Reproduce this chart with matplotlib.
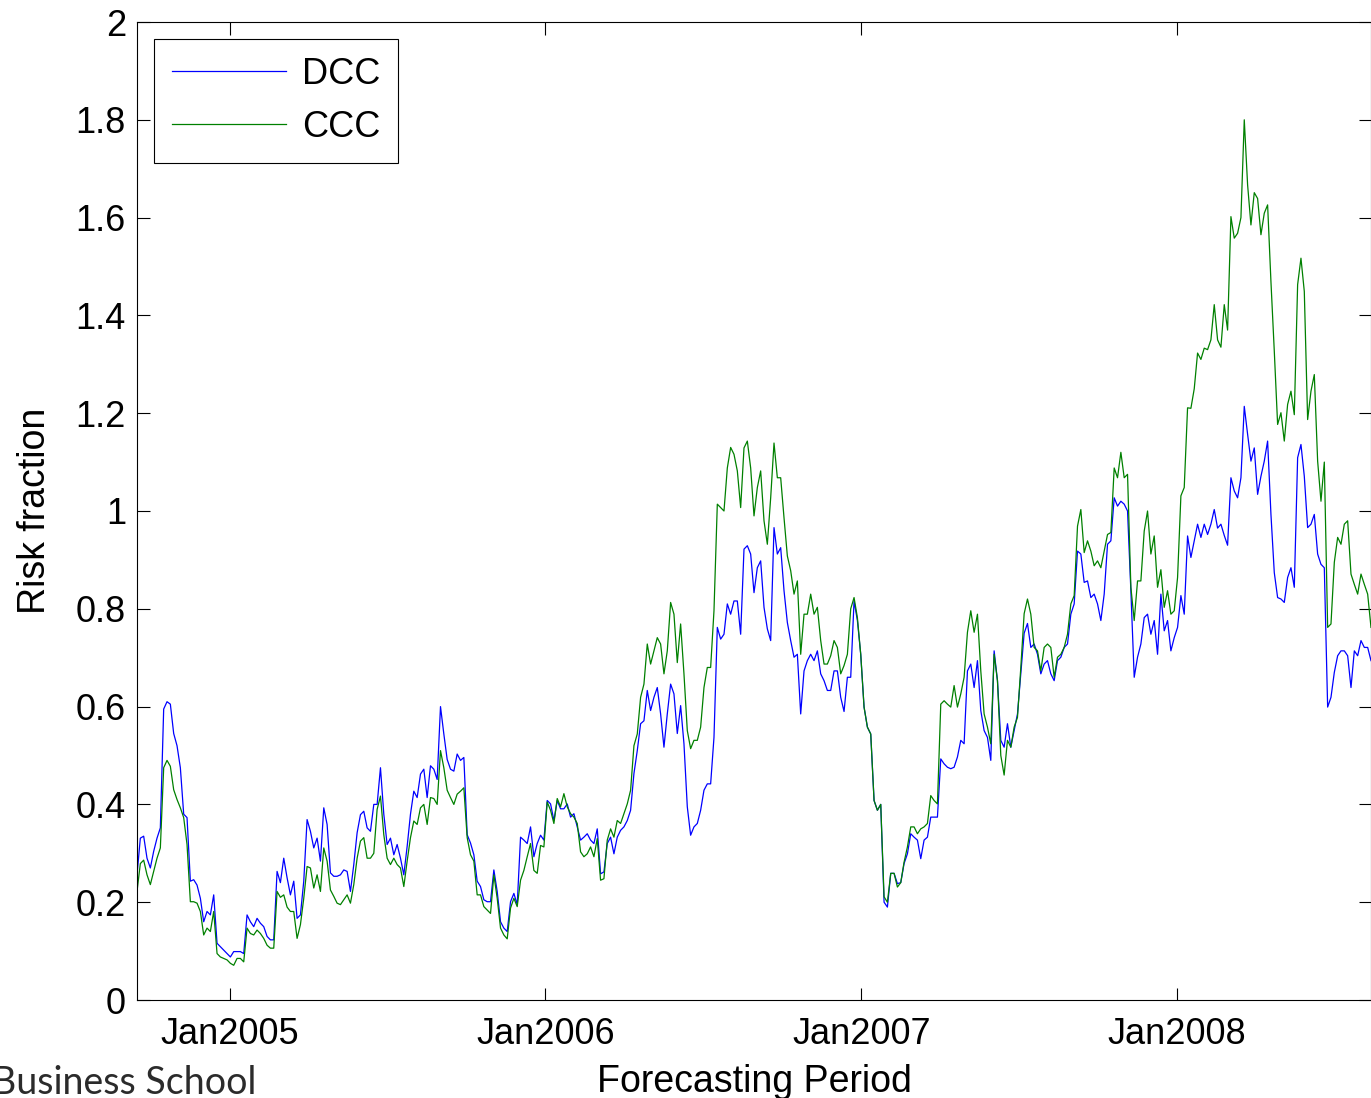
import matplotlib
matplotlib.use("Agg")
import matplotlib.pyplot as plt
import matplotlib.ticker as mticker
import pandas as pd

# ---------------- data ----------------
start_date = "2004-09-16"
end_date = "2008-08-12"

dcc = [
    # Sep 2004 - Mar 2005
    0.256, 0.331, 0.335, 0.290, 0.270, 0.304, 0.331, 0.352, 0.595, 0.610,
    0.605, 0.545, 0.520, 0.475, 0.380, 0.373, 0.243, 0.246, 0.235, 0.208,
    0.160, 0.181, 0.174, 0.215, 0.116, 0.109, 0.102, 0.095, 0.088, 0.099,
    0.099, 0.099, 0.095, 0.174, 0.160, 0.150, 0.167, 0.157, 0.150, 0.130,
    0.123, 0.123, 0.263, 0.240, 0.290, 0.250, 0.215, 0.243, 0.167, 0.174,
    0.243, 0.369, 0.345, 0.311, 0.331, 0.284, 0.393, 0.359,
    # Apr 2005 - Dec 2005
    0.260, 0.253, 0.253, 0.256, 0.266, 0.263, 0.222, 0.277, 0.342, 0.379,
    0.386, 0.352, 0.345, 0.400, 0.400, 0.475, 0.380, 0.318, 0.331, 0.297,
    0.318, 0.290, 0.256, 0.314, 0.380, 0.427, 0.414, 0.462, 0.472, 0.414,
    0.479, 0.472, 0.451, 0.600, 0.544, 0.492, 0.472, 0.468, 0.503, 0.490,
    0.496, 0.338, 0.321, 0.297, 0.243, 0.232, 0.205, 0.201, 0.201, 0.266,
    0.222, 0.160, 0.147, 0.140, 0.201, 0.218, 0.195,
    # Dec 2005 - Jun 2006
    0.333, 0.327, 0.320, 0.354, 0.293, 0.320, 0.337, 0.327, 0.408, 0.401,
    0.367, 0.408, 0.391, 0.391, 0.401, 0.374, 0.381, 0.354, 0.327, 0.333,
    0.340, 0.327, 0.320, 0.350, 0.258, 0.262, 0.320, 0.333, 0.299, 0.333,
    0.347, 0.354, 0.367, 0.388, 0.463, 0.510, 0.565, 0.571, 0.633, 0.592,
    0.619, 0.639, 0.585, 0.517, 0.585, 0.646, 0.626, 0.545,
    # Jun 2006 - Jan 2007
    0.602, 0.524, 0.395, 0.337, 0.354, 0.361, 0.388, 0.429, 0.442, 0.442,
    0.537, 0.762, 0.738, 0.748, 0.810, 0.789, 0.816, 0.816, 0.748, 0.922,
    0.929, 0.912, 0.833, 0.884, 0.898, 0.803, 0.759, 0.735, 0.966, 0.912,
    0.925, 0.837, 0.772, 0.735, 0.701, 0.707, 0.585, 0.673, 0.694, 0.707,
    0.694, 0.714, 0.667, 0.653, 0.633, 0.633, 0.673, 0.673, 0.619, 0.590,
    0.660, 0.660, 0.816, 0.776,
    # Jan 2007 - Aug 2007
    0.707, 0.599, 0.558, 0.544, 0.408, 0.388, 0.400, 0.200, 0.190, 0.259,
    0.259, 0.238, 0.240, 0.279, 0.299, 0.340, 0.333, 0.327, 0.289, 0.327,
    0.333, 0.374, 0.374, 0.374, 0.493, 0.483, 0.476, 0.473, 0.476, 0.497,
    0.531, 0.524, 0.673, 0.687, 0.639, 0.694, 0.592, 0.551, 0.537, 0.490,
    0.714, 0.653, 0.531, 0.517, 0.565, 0.517, 0.551, 0.585, 0.667, 0.750,
    0.770, 0.721, 0.728, 0.707, 0.667, 0.687, 0.694, 0.667, 0.653, 0.694,
    # Aug 2007 - Feb 2008
    0.701, 0.721, 0.728, 0.789, 0.810, 0.918, 0.912, 0.854, 0.857, 0.823,
    0.830, 0.810, 0.776, 0.830, 0.932, 0.939, 1.027, 1.010, 1.020, 1.014,
    1.000, 0.837, 0.660, 0.701, 0.728, 0.782, 0.789, 0.748, 0.776, 0.707,
    0.830, 0.755, 0.776, 0.714, 0.741, 0.762, 0.827, 0.789, 0.949, 0.905,
    0.939, 0.973, 0.946, 0.973, 0.952, 0.973, 1.003, 0.965, 0.973, 0.950,
    0.930, 1.068, 1.041, 1.027,
    # Mar 2008 - Aug 2008
    1.068, 1.214, 1.157, 1.102, 1.129, 1.034, 1.071, 1.102, 1.143, 0.993,
    0.874, 0.823, 0.820, 0.813, 0.864, 0.884, 0.844, 1.109, 1.136, 1.071,
    0.966, 0.973, 0.993, 0.912, 0.891, 0.884, 0.599, 0.619, 0.670, 0.704,
    0.714, 0.714, 0.704, 0.639, 0.714, 0.704, 0.735, 0.721, 0.721, 0.694,
]

ccc = [
    # Sep 2004 - Mar 2005
    0.222, 0.279, 0.286, 0.256, 0.236, 0.263, 0.290, 0.311, 0.475, 0.490,
    0.478, 0.430, 0.410, 0.393, 0.373, 0.318, 0.201, 0.201, 0.198, 0.181,
    0.133, 0.147, 0.140, 0.181, 0.095, 0.088, 0.085, 0.082, 0.075, 0.071,
    0.085, 0.085, 0.078, 0.147, 0.136, 0.133, 0.143, 0.136, 0.126, 0.112,
    0.106, 0.106, 0.222, 0.210, 0.215, 0.190, 0.181, 0.181, 0.126, 0.154,
    0.208, 0.273, 0.270, 0.229, 0.256, 0.222, 0.311, 0.284,
    # Apr 2005 - Dec 2005
    0.225, 0.212, 0.198, 0.195, 0.205, 0.215, 0.198, 0.236, 0.290, 0.325,
    0.332, 0.290, 0.290, 0.300, 0.390, 0.417, 0.338, 0.290, 0.277, 0.290,
    0.277, 0.270, 0.232, 0.284, 0.332, 0.366, 0.359, 0.393, 0.400, 0.359,
    0.414, 0.412, 0.400, 0.510, 0.475, 0.429, 0.414, 0.400, 0.421, 0.427,
    0.434, 0.332, 0.297, 0.284, 0.215, 0.215, 0.191, 0.184, 0.177, 0.256,
    0.208, 0.147, 0.133, 0.125, 0.188, 0.208, 0.191,
    # Dec 2005 - Jun 2006
    0.245, 0.265, 0.293, 0.320, 0.265, 0.259, 0.316, 0.313, 0.405, 0.388,
    0.361, 0.412, 0.395, 0.422, 0.395, 0.381, 0.374, 0.361, 0.303, 0.293,
    0.299, 0.313, 0.293, 0.330, 0.245, 0.248, 0.327, 0.350, 0.333, 0.367,
    0.361, 0.381, 0.401, 0.429, 0.520, 0.544, 0.619, 0.646, 0.728, 0.687,
    0.714, 0.741, 0.728, 0.667, 0.714, 0.813, 0.789, 0.690,
    # Jun 2006 - Jan 2007
    0.769, 0.667, 0.551, 0.514, 0.531, 0.531, 0.558, 0.639, 0.680, 0.680,
    0.796, 1.014, 1.007, 1.000, 1.088, 1.130, 1.116, 1.082, 1.007, 1.129,
    1.143, 1.088, 0.990, 1.048, 1.082, 0.980, 0.932, 1.027, 1.139, 1.068,
    1.068, 0.986, 0.908, 0.878, 0.830, 0.857, 0.707, 0.789, 0.789, 0.830,
    0.789, 0.803, 0.735, 0.687, 0.687, 0.704, 0.735, 0.721, 0.667, 0.684,
    0.707, 0.800, 0.823, 0.782,
    # Jan 2007 - Aug 2007
    0.707, 0.599, 0.558, 0.544, 0.408, 0.388, 0.400, 0.211, 0.200, 0.259,
    0.259, 0.231, 0.240, 0.282, 0.313, 0.354, 0.354, 0.340, 0.350, 0.354,
    0.361, 0.418, 0.408, 0.401, 0.605, 0.612, 0.605, 0.599, 0.643, 0.599,
    0.626, 0.660, 0.752, 0.796, 0.752, 0.789, 0.673, 0.585, 0.558, 0.524,
    0.707, 0.653, 0.500, 0.460, 0.531, 0.517, 0.558, 0.578, 0.680, 0.790,
    0.820, 0.789, 0.721, 0.714, 0.673, 0.721, 0.728, 0.721, 0.660, 0.701,
    # Aug 2007 - Feb 2008
    0.707, 0.721, 0.748, 0.810, 0.827, 0.969, 1.003, 0.915, 0.939, 0.918,
    0.888, 0.898, 0.884, 0.918, 0.952, 0.956, 1.088, 1.068, 1.120, 1.068,
    1.075, 0.844, 0.776, 0.857, 0.857, 0.959, 1.000, 0.912, 0.949, 0.844,
    0.880, 0.803, 0.837, 0.789, 0.796, 0.864, 1.031, 1.048, 1.211, 1.210,
    1.250, 1.323, 1.310, 1.333, 1.330, 1.350, 1.422, 1.350, 1.335, 1.422,
    1.370, 1.602, 1.558, 1.568,
    # Mar 2008 - Aug 2008
    1.600, 1.800, 1.667, 1.585, 1.651, 1.639, 1.565, 1.609, 1.626, 1.469,
    1.327, 1.177, 1.201, 1.143, 1.218, 1.245, 1.197, 1.463, 1.517, 1.449,
    1.187, 1.245, 1.279, 1.102, 1.020, 1.100, 0.762, 0.769, 0.895, 0.946,
    0.932, 0.973, 0.980, 0.871, 0.850, 0.830, 0.871, 0.850, 0.830, 0.762,
]

series_labels = ["DCC", "CCC"]
xtick_dates = ["2005-01-01", "2006-01-01", "2007-01-01", "2008-01-01"]
xtick_labels = ["Jan2005", "Jan2006", "Jan2007", "Jan2008"]
yticks = [0, 0.2, 0.4, 0.6, 0.8, 1.0, 1.2, 1.4, 1.6, 1.8, 2.0]

# ---------------- figure ----------------
plt.rcParams["font.family"] = ["Liberation Sans", "DejaVu Sans"]

dates = pd.date_range(start_date, end_date, periods=len(dcc))

fig = plt.figure(figsize=(13.71, 10.98), dpi=100)
ax = fig.add_axes([137 / 1371, 98 / 1098, 1234 / 1371, 978 / 1098])

ax.plot(dates, dcc, color=(0, 0, 1), lw=0.9, label=series_labels[0])
ax.plot(dates, ccc, color=(0, 0.5, 0), lw=0.9, label=series_labels[1])

ax.set_xlim(dates[0], dates[-1])
ax.set_ylim(0, 2)
ax.set_yticks(yticks)
ax.yaxis.set_major_formatter(mticker.FuncFormatter(lambda v, p: f"{v:g}"))
ax.set_xticks(pd.to_datetime(xtick_dates))
ax.set_xticklabels(xtick_labels)

ax.tick_params(direction="in", length=9, width=0.8, top=True, right=True,
               labelsize=26, colors="black")
ax.tick_params(axis="x", pad=12)
ax.tick_params(axis="y", pad=8)
for s in ax.spines.values():
    s.set_linewidth(0.8)

ax.set_xlabel("Forecasting Period", fontsize=27, labelpad=9)
ax.set_ylabel("Risk fraction", fontsize=27, labelpad=16)

leg = ax.legend(loc="upper left", bbox_to_anchor=(17 / 1234, 961 / 978),
                borderaxespad=0, fontsize=26, handlelength=3.15,
                handletextpad=0.45, labelspacing=0.5, borderpad=0.5,
                fancybox=False, framealpha=1, edgecolor="black")
leg.get_frame().set_linewidth(0.8)

fig.text(256 / 1371, 4 / 1098, "Business School", ha="right", va="baseline",
         fontsize=27, color="#2b2b2b", family=["Lato", "DejaVu Sans"])

fig.savefig("out.png", dpi=100)
